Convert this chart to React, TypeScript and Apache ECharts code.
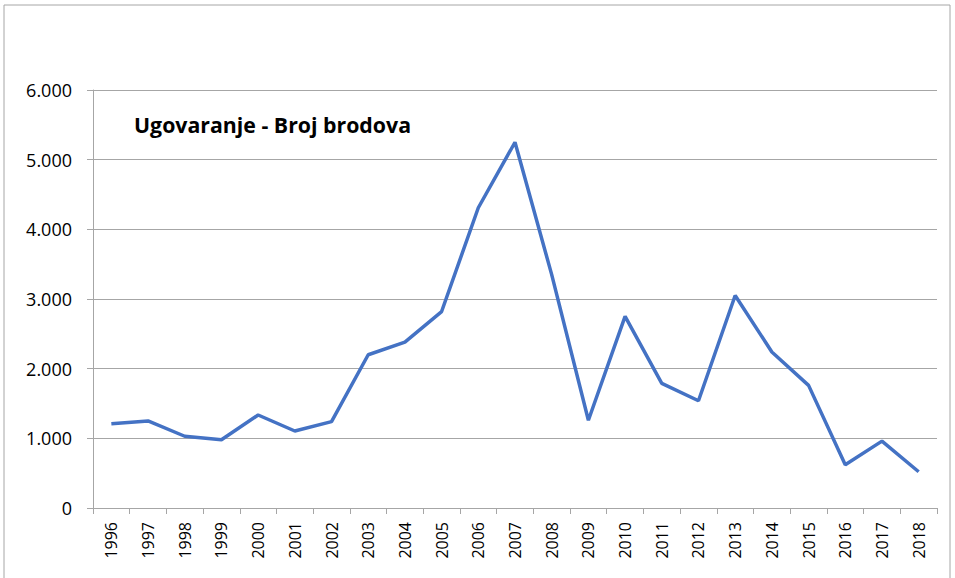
import React, { useEffect, useRef } from "react";
import * as echarts from "echarts";

const years = ["1996","1997","1998","1999","2000","2001","2002","2003","2004","2005","2006","2007","2008","2009","2010","2011","2012","2013","2014","2015","2016","2017","2018"];
const ships = [1210,1250,1030,980,1335,1105,1240,2200,2380,2820,4310,5250,3350,1260,2750,1790,1540,3050,2240,1760,620,960,520];
const yTicks = [0,1000,2000,3000,4000,5000,6000];
const title = "Ugovaranje - Broj brodova";

export default function App() {
  const ref = useRef<HTMLDivElement>(null);
  useEffect(() => {
    if (!ref.current) return;
    const chart = echarts.init(ref.current, null, { renderer: "svg" });
    const font = "Open Sans";
    chart.setOption({
      animation: false,
      backgroundColor: "#ffffff",
      grid: { left: 93, right: 18, top: 90, bottom: 70, containLabel: false },
      graphic: [
        { type: "rect", shape: { x: 4, y: 5, width: 946, height: 600 }, style: { fill: "none", stroke: "#a6a6a6", lineWidth: 1 }, silent: true },
        { type: "text", left: 134, top: 114, style: { text: title, font: `bold 21.3px "${font}"`, fill: "#000000" } },
      ],
      xAxis: {
        type: "category",
        data: years,
        boundaryGap: true,
        axisLine: { lineStyle: { color: "#a6a6a6", width: 1 } },
        axisTick: { show: true, interval: 0, length: 6, lineStyle: { color: "#a6a6a6" } },
        axisLabel: { interval: 0, rotate: 90, color: "#000", fontSize: 16, fontFamily: font, margin: 14 },
        splitLine: { show: false },
      },
      yAxis: {
        type: "value",
        min: 0,
        max: 6000,
        interval: 1000,
        axisLine: { show: true, lineStyle: { color: "#a6a6a6", width: 1 } },
        axisTick: { show: true, length: 6, lineStyle: { color: "#a6a6a6" } },
        axisLabel: {
          color: "#000",
          fontSize: 18,
          fontFamily: font,
          margin: 21,
          formatter: (v: number) => (yTicks.includes(v) ? (v === 0 ? "0" : (v / 1000).toFixed(3)) : ""),
        },
        splitLine: { show: true, lineStyle: { color: "#a6a6a6", width: 1 } },
      },
      series: [
        {
          type: "line",
          data: ships,
          symbol: "none",
          lineStyle: { color: "#4472C4", width: 3.5 },
          itemStyle: { color: "#4472C4" },
        },
      ],
    });
    return () => chart.dispose();
  }, []);
  return <div ref={ref} style={{ position: "absolute", left: 0, top: 0, width: 955, height: 578 }} />;
}
